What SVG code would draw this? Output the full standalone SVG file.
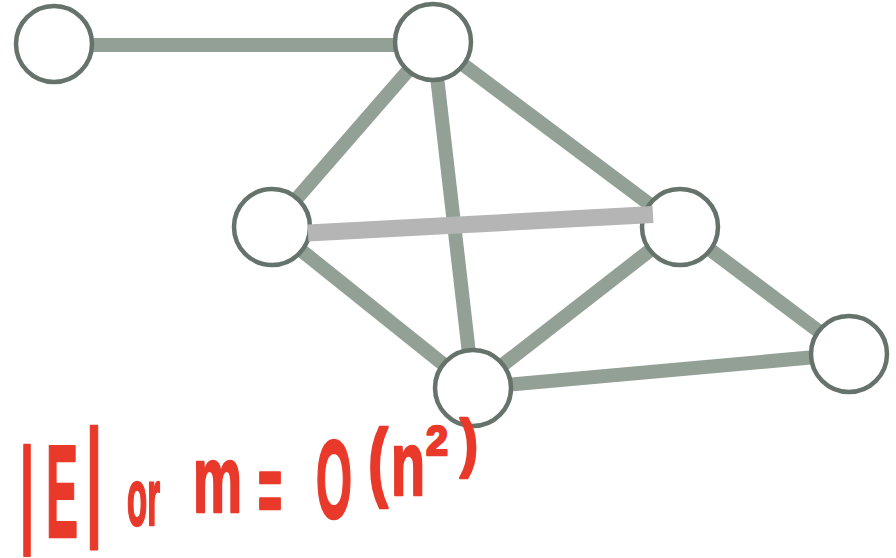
<svg xmlns="http://www.w3.org/2000/svg" width="896" height="558" viewBox="0 0 896 558">
<style>
.edge{stroke:#92a096;stroke-width:14;fill:none}
.light{stroke:#b5b5b5;stroke-width:17;fill:none}
.node{fill:#ffffff;stroke:#66736a;stroke-width:4.5}
.hw{font-family:"Liberation Sans",Arial,sans-serif;font-weight:bold;fill:#e9392a;stroke:#e9392a;stroke-width:2.5;stroke-linejoin:round}
</style>
<rect width="896" height="558" fill="#ffffff"/>
<g id="connectors">
<line class="edge" x1="54" y1="45" x2="433" y2="45"/>
<line class="edge" x1="433" y1="42" x2="272" y2="227"/>
<line class="edge" x1="433" y1="42" x2="473" y2="388"/>
<line class="edge" x1="433" y1="42" x2="680" y2="227"/>
<line class="edge" x1="272" y1="227" x2="473" y2="388"/>
<line class="edge" x1="680" y1="227" x2="473" y2="388"/>
<line class="edge" x1="680" y1="227" x2="849" y2="354"/>
<line class="edge" x1="473" y1="388" x2="849" y2="354"/>
</g>
<g id="nodeA"><circle class="node" cx="54" cy="44" r="38"/></g>
<g id="nodeB"><circle class="node" cx="433" cy="42" r="38"/></g>
<g id="nodeC"><circle class="node" cx="272" cy="227" r="38"/></g>
<g id="nodeD"><circle class="node" cx="680" cy="227" r="38"/></g>
<g id="nodeE"><circle class="node" cx="473" cy="388" r="38"/></g>
<g id="nodeF"><circle class="node" cx="849" cy="354" r="38"/></g>
<g id="highlight-edge"><line class="light" x1="308" y1="233" x2="653" y2="214.5"/></g>
<g id="formula">
<text class="hw"><tspan x="20" y="530" font-size="117" textLength="14" lengthAdjust="spacingAndGlyphs">|</tspan><tspan x="46" y="537" font-size="131" textLength="32" lengthAdjust="spacingAndGlyphs">E</tspan><tspan x="86" y="520" font-size="130" textLength="16" lengthAdjust="spacingAndGlyphs">|</tspan><tspan x="127" y="525" font-size="80" textLength="33" lengthAdjust="spacingAndGlyphs">or</tspan><tspan x="193" y="512" font-size="94" textLength="49" lengthAdjust="spacingAndGlyphs">m</tspan><tspan x="258" y="523" font-size="97" textLength="24" lengthAdjust="spacingAndGlyphs">=</tspan><tspan x="316" y="518" font-size="112" textLength="36" lengthAdjust="spacingAndGlyphs">O</tspan><tspan x="368" y="490" font-size="87" textLength="20" lengthAdjust="spacingAndGlyphs">(</tspan><tspan x="391" y="495" font-size="90" textLength="34" lengthAdjust="spacingAndGlyphs">n</tspan><tspan x="426" y="455" font-size="42" textLength="22" lengthAdjust="spacingAndGlyphs">2</tspan><tspan x="460" y="465" font-size="64" textLength="18" lengthAdjust="spacingAndGlyphs">)</tspan></text>
</g>
</svg>
